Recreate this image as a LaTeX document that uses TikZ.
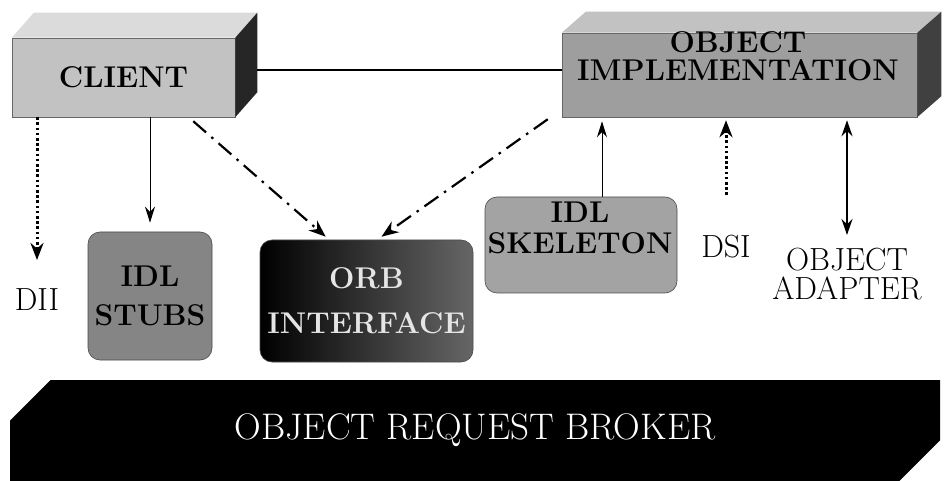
\documentclass[tikz,border=0pt]{standalone}
\usepackage{tikz}
\usetikzlibrary{arrows.meta, shapes.misc, positioning, calc}
\definecolor{clientfront}{rgb}{0.76,0.76,0.76}
\definecolor{clienttop}{rgb}{0.86,0.86,0.86}
\definecolor{implfront}{rgb}{0.62,0.62,0.62}
\definecolor{impltop}{rgb}{0.76,0.76,0.76}
\definecolor{stubsgray}{rgb}{0.52,0.52,0.52}
\definecolor{skelgray}{rgb}{0.64,0.64,0.64}

\begin{document}
\begin{tikzpicture}[x=1pt, y=-1pt,
    boxfont/.style={font=\fontsize{30}{#1}\selectfont\bfseries, align=center},
    labelfont/.style={font=\fontsize{32}{29}\selectfont, align=center},
    front/.style={draw=black!60, line width=0.5pt, inner sep=0pt},
    roundbox/.style={draw=black!70, line width=0.6pt, rounded corners=12pt, inner sep=0pt},
    thinarrow/.style={line width=1pt, -{Stealth[length=16pt, width=10pt]}},
    dotarrow/.style={line width=3pt, dash pattern=on 2.6pt off 2.6pt, -{Stealth[length=17pt, width=13pt]}},
    dasharrow/.style={line width=2.2pt, dash pattern=on 17pt off 7pt on 2.5pt off 7pt, -{Stealth[length=17pt, width=13pt]}},
    bothways/.style={line width=2pt, {Stealth[length=16pt, width=11pt]}-{Stealth[length=16pt, width=11pt]}}]

    \useasboundingbox (0,0) rectangle (951,481);

    \node[front, fill=clientfront, minimum width=223pt, minimum height=79pt, boxfont=34] (client) at (123.5,77.5) {CLIENT};
    \fill[clienttop] (client.north west) -- ++(22,-25) -- ($(client.north east)+(22,-25)$) -- (client.north east) -- cycle;
    \fill[black!85] (client.north east) -- ++(22,-25) -- ($(client.south east)+(22,-25)$) -- (client.south east) -- cycle;

    \node[front, fill=implfront, minimum width=355pt, minimum height=84pt] (impl) at (739.5,75) {};
    \fill[impltop] (impl.north west) -- ++(24,-21) -- ($(impl.north east)+(24,-21)$) -- (impl.north east) -- cycle;
    \fill[black!75] (impl.north east) -- ++(24,-21) -- ($(impl.south east)+(24,-21)$) -- (impl.south east) -- cycle;
    \node[boxfont=28] (impltext) at (738,56) {OBJECT\\IMPLEMENTATION};

    \node[roundbox, fill=stubsgray, minimum width=124pt, minimum height=128pt, boxfont=39] (stubs) at (150,296) {IDL\\STUBS};
    \node[roundbox, left color=black, right color=black!60, minimum width=213pt, minimum height=122pt, boxfont=45, text=black!10] (orbif) at (366.5,301) {ORB\\INTERFACE};
    \node[roundbox, fill=skelgray, minimum width=192pt, minimum height=96pt] (skel) at (581,245) {};
    \node[boxfont=31] (skeltext) at (580,227.5) {IDL\\SKELETON};

    \node[labelfont] (dii) at (37,300) {DII};
    \node[labelfont] (dsi) at (726,247) {DSI};
    \node[labelfont] (adapter) at (847,274) {OBJECT\\ADAPTER};

    \node[chamfered rectangle, chamfered rectangle corners={north west, south east}, chamfered rectangle xsep=24pt, chamfered rectangle ysep=24pt,
      fill=black, inner sep=0pt, minimum width=930pt, minimum height=101pt, text=white, font=\fontsize{37}{39}\selectfont] (orb) at (475,430.5) {OBJECT REQUEST BROKER};

    \coordinate (clientside) at ($(client.east)+(22,-7.5)$);
    \coordinate (clientdash) at ($(client.south east)+(-42,4)$);
    \coordinate (orbifleft) at ($(orbif.north west)+(66,-3)$);
    \coordinate (impldash) at ($(impl.south west)+(-14,2)$);
    \coordinate (orbifright) at ($(orbif.north)+(15,-3)$);
    \coordinate (skeltop) at ($(skel.north)+(21,0)$);

    \draw[line width=2.6pt] (clientside) -- (impl.west |- clientside);
    \draw[dotarrow] (client.south -| dii) -- ([yshift=40pt]dii.center);
    \draw[thinarrow, shorten >=9pt] (client.south -| stubs.north) -- (stubs.north);
    \draw[dasharrow] (clientdash) -- (orbifleft);
    \draw[dasharrow] (impldash) -- (orbifright);
    \draw[thinarrow, shorten >=4pt] (skeltop) -- (impl.south -| skeltop);
    \draw[dotarrow, shorten >=3pt] ([yshift=52pt]dsi.center) -- (impl.south -| dsi);
    \draw[bothways, shorten <=3pt] (impl.south -| adapter) -- ([yshift=39pt]adapter.center);
  \end{tikzpicture}
\end{document}
